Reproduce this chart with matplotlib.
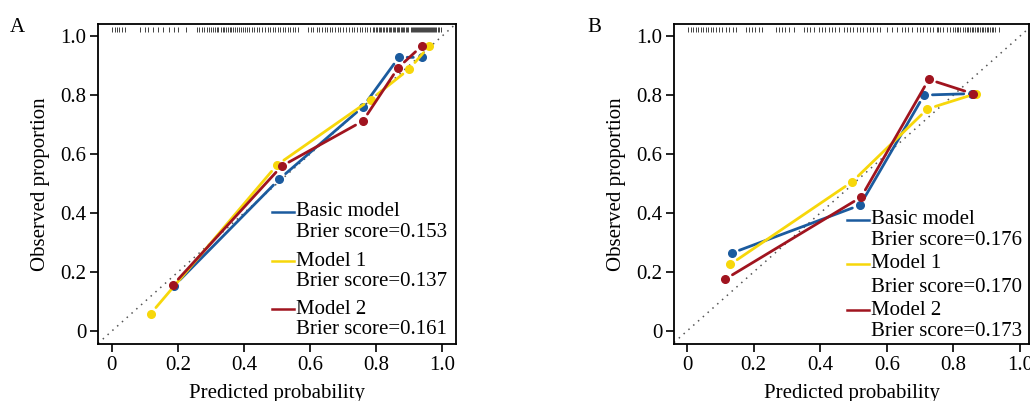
import matplotlib
matplotlib.use("Agg")
import matplotlib.pyplot as plt
from matplotlib import rcParams

rcParams.update({
    "font.family": "serif",
    "font.serif": ["Liberation Serif", "DejaVu Serif"],
    "font.size": 15,
    "axes.linewidth": 1.3,
})

C_BASIC = "#1b5b9e"
C_M1 = "#f7d70a"
C_M2 = "#a0141f"

# ---- panel A data -------------------------------------------------------
a_basic_x = [0.188, 0.507, 0.760, 0.869, 0.938]
a_basic_y = [0.153, 0.515, 0.760, 0.928, 0.928]
a_m1_x = [0.117, 0.500, 0.784, 0.901, 0.960]
a_m1_y = [0.058, 0.563, 0.785, 0.889, 0.965]
a_m2_x = [0.184, 0.514, 0.760, 0.867, 0.938]
a_m2_y = [0.155, 0.559, 0.712, 0.893, 0.966]
a_brier = ["0.153", "0.137", "0.161"]

rug_a = [0.0, 0.008, 0.015, 0.022, 0.03, 0.04, 0.085, 0.10, 0.11, 0.124,
         0.139, 0.155, 0.173, 0.188, 0.20, 0.224, 0.258, 0.265, 0.272,
         0.28, 0.287, 0.293, 0.30, 0.306, 0.312, 0.317, 0.322, 0.33, 0.335,
         0.34, 0.346, 0.352, 0.357, 0.362, 0.368, 0.373, 0.378, 0.384,
         0.39, 0.396, 0.403, 0.408, 0.416, 0.424, 0.43, 0.438, 0.446,
         0.455, 0.463, 0.473, 0.48, 0.488, 0.495, 0.503, 0.51, 0.518,
         0.525, 0.533, 0.54, 0.548, 0.556, 0.565, 0.595, 0.603, 0.61,
         0.62, 0.628, 0.636, 0.644, 0.652, 0.66, 0.668, 0.676, 0.684,
         0.692, 0.70, 0.71, 0.718, 0.726, 0.734, 0.742, 0.75, 0.758,
         0.766, 0.774, 0.782, 0.79, 0.795, 0.80, 0.804, 0.808, 0.812,
         0.816, 0.82, 0.825, 0.83, 0.834, 0.838, 0.842, 0.846, 0.85,
         0.854, 0.858, 0.862, 0.866, 0.87, 0.874, 0.878, 0.882, 0.886,
         0.89, 0.894, 0.898, 0.906, 0.909, 0.912, 0.915, 0.918, 0.921,
         0.924, 0.927, 0.93, 0.933, 0.936, 0.939, 0.942, 0.945, 0.948,
         0.951, 0.954, 0.957, 0.96, 0.963, 0.966, 0.969, 0.972, 0.975,
         0.978, 0.982, 0.986, 0.99, 0.997]

# ---- panel B data -------------------------------------------------------
b_basic_x = [0.134, 0.520, 0.712, 0.856]
b_basic_y = [0.264, 0.427, 0.800, 0.805]
b_m1_x = [0.130, 0.496, 0.722, 0.868]
b_m1_y = [0.226, 0.506, 0.753, 0.805]
b_m2_x = [0.115, 0.523, 0.726, 0.858]
b_m2_y = [0.176, 0.454, 0.853, 0.805]
b_brier = ["0.176", "0.170", "0.173"]

rug_b = [0.003, 0.011, 0.019, 0.026, 0.033, 0.041, 0.049, 0.056, 0.063,
         0.071, 0.079, 0.087, 0.096, 0.106, 0.116, 0.126, 0.139, 0.146,
         0.177, 0.185, 0.195, 0.205, 0.215, 0.225, 0.267, 0.275, 0.285,
         0.295, 0.305, 0.32, 0.351, 0.36, 0.37, 0.38, 0.395, 0.405, 0.415,
         0.425, 0.435, 0.445, 0.455, 0.47, 0.48, 0.49, 0.50, 0.51, 0.52,
         0.53, 0.54, 0.55, 0.56, 0.57, 0.58, 0.60, 0.615, 0.63, 0.646,
         0.655, 0.665, 0.675, 0.69, 0.70, 0.71, 0.72, 0.73, 0.74, 0.75,
         0.755, 0.76, 0.77, 0.78, 0.79, 0.80, 0.805, 0.81, 0.815, 0.82,
         0.83, 0.835, 0.84, 0.845, 0.85, 0.855, 0.86, 0.865, 0.87, 0.875,
         0.88, 0.885, 0.89, 0.895, 0.90, 0.905, 0.91, 0.915, 0.92, 0.925,
         0.937]

MODELS = ["Basic model", "Model 1", "Model 2"]
COLORS = [C_BASIC, C_M1, C_M2]
TICKS = [0, 0.2, 0.4, 0.6, 0.8, 1.0]
TICKLABELS = ["0", "0.2", "0.4", "0.6", "0.8", "1.0"]


def gapped(ax, xs, ys, color):
    # R type="b": segments stop short of the points
    for i in range(len(xs) - 1):
        ax.annotate("", xy=(xs[i + 1], ys[i + 1]), xytext=(xs[i], ys[i]),
                    arrowprops=dict(arrowstyle="-", color=color, lw=2.0,
                                    shrinkA=6, shrinkB=6))
    ax.plot(xs, ys, "o", color=color, markersize=5.5, ls="none", zorder=3)


def panel(ax, series, brier, rug, xlim, leg_x, leg_rows, tag):
    ax.axline((0, 0), slope=1, color="#555555", lw=1.1,
              linestyle=(0, (1, 3.2)), zorder=1)
    for (xs, ys), c in zip(series, COLORS):
        gapped(ax, xs, ys, c)
    ax.vlines(rug, 1.013, 1.030, color="#222222", lw=0.6)

    ax.set_xlim(*xlim)
    ax.set_ylim(-0.044, 1.041)
    ax.set_xticks(TICKS)
    ax.set_xticklabels(TICKLABELS)
    ax.set_yticks(TICKS)
    ax.set_yticklabels(TICKLABELS)
    ax.tick_params(length=5.5, width=1.2, pad=3)
    ax.set_xlabel("Predicted probability")
    ax.set_ylabel("Observed proportion")
    ax.xaxis.set_label_coords(0.5, -0.125)
    ax.yaxis.set_label_coords(-0.135, 0.5)

    # legend: coloured dash beside the model name, score on the next line
    for i, (name, score, c) in enumerate(zip(MODELS, brier, COLORS)):
        y1, y2 = leg_rows[2 * i], leg_rows[2 * i + 1]
        ax.plot([leg_x, leg_x + 0.062], [y1, y1], color=c, lw=1.8,
                transform=ax.transAxes, clip_on=False)
        ax.text(leg_x + 0.068, y1, name, transform=ax.transAxes,
                va="center", ha="left")
        ax.text(leg_x + 0.068, y2, "Brier score=" + score,
                transform=ax.transAxes, va="center", ha="left")
    ax.text(-0.225, 0.99, tag, transform=ax.transAxes, va="center",
            ha="center", fontsize=15)


fig = plt.figure(figsize=(10.30, 4.01), dpi=100)
ax_a = fig.add_axes([98 / 1030, 57 / 401, 358 / 1030, 320 / 401])
ax_b = fig.add_axes([674 / 1030, 57 / 401, 355 / 1030, 320 / 401])

panel(ax_a,
      [(a_basic_x, a_basic_y), (a_m1_x, a_m1_y), (a_m2_x, a_m2_y)],
      a_brier, rug_a, (-0.042, 1.042), 0.486,
      [0.4125, 0.347, 0.259, 0.194, 0.109, 0.044], "A")
panel(ax_b,
      [(b_basic_x, b_basic_y), (b_m1_x, b_m1_y), (b_m2_x, b_m2_y)],
      b_brier, rug_b, (-0.039, 1.027), 0.486,
      [0.3875, 0.322, 0.25, 0.178, 0.106, 0.0375], "B")

fig.savefig("out.png", dpi=100, facecolor="white")
